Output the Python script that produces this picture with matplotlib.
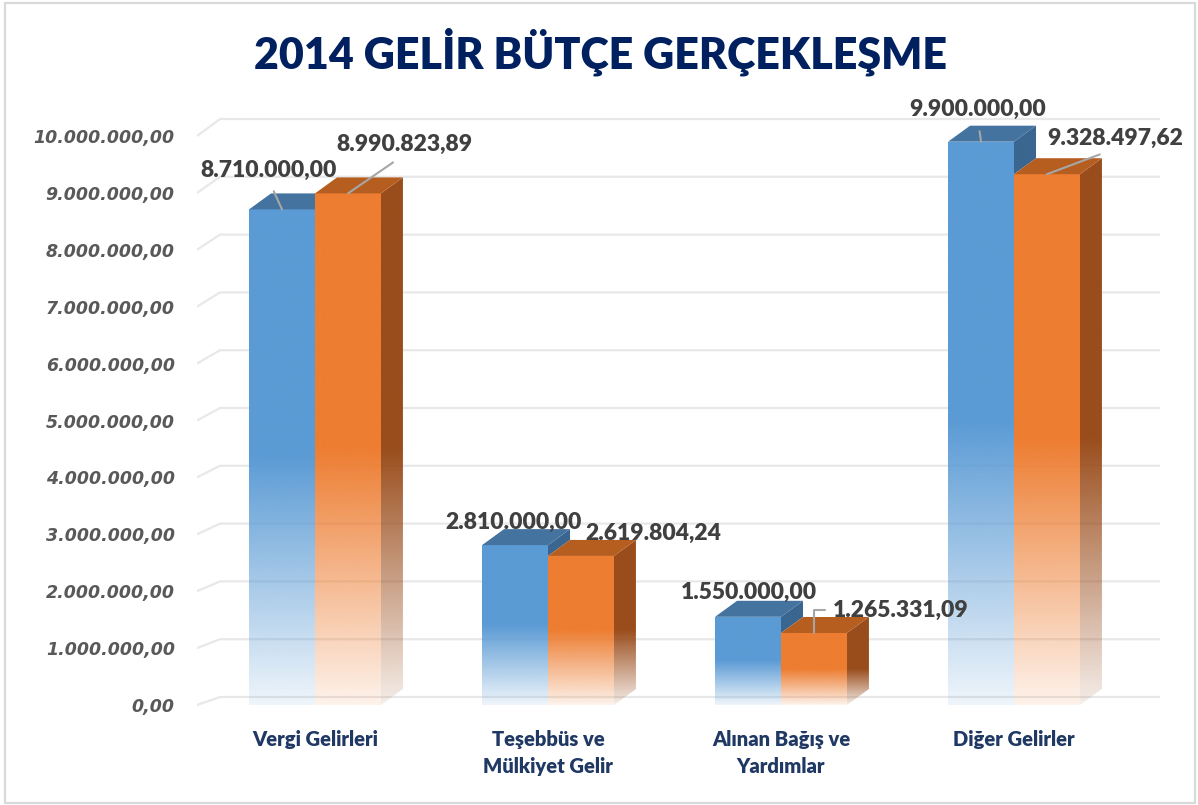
import numpy as np
import matplotlib
matplotlib.use("Agg")
import matplotlib.pyplot as plt
from matplotlib.patches import Polygon, Rectangle

# chart data
categories = ["Vergi Gelirleri", "Teşebbüs ve\nMülkiyet Gelir", "Alınan Bağış ve\nYardımlar", "Diğer Gelirler"]
butce = [8710000.00, 2810000.00, 1550000.00, 9900000.00]
gerceklesme = [8990823.89, 2619804.24, 1265331.09, 9328497.62]
yticks = [0, 1e6, 2e6, 3e6, 4e6, 5e6, 6e6, 7e6, 8e6, 9e6, 10e6]

# label layout: (offset px from bar top, draw leader?)
blue_lbl = [((-13, 39), True), ((-1, 23), False), ((1, 24), False), ((-3, 32), True)]
orange_lbl = [((56, 49), True), ((72, 23), False), ((87, 23), "bracket"), ((68, 36), True)]


def tr(v):
    s = f"{v:,.2f}"
    return s.replace(",", "X").replace(".", ",").replace("X", ".")


W, H = 1198, 805
PX_X = 233.0          # pixels per category
PX_Y = 56.9 / 1e6     # pixels per unit value
DX = 22 / PX_X        # bar depth
DY = 16 / PX_Y
width = 0.283

fig = plt.figure(figsize=(W / 100, H / 100), dpi=100)
ax = fig.add_axes([197 / W, 85 / H, 963 / W, 620 / H])
fig.patches.append(Rectangle((5 / W, 2 / H), 1190 / W, 800 / H, transform=fig.transFigure,
                             fill=False, edgecolor="#D9D9D9", lw=1.6))

xmin = -118 / PX_X
xmax = xmin + 963 / PX_X
ymin = -15 / PX_Y
ymax = 605 / PX_Y


def alpha_at(frac):
    frac = np.clip(frac, 0, 1)
    return np.where(frac < 0.5, 1.0, 1.0 - (frac - 0.5) / 0.5 * 0.9)


def grad_face(verts, color, v, z):
    poly = Polygon(verts, closed=True, facecolor="none", edgecolor="none")
    ax.add_patch(poly)
    xs = [p[0] for p in verts]
    ys = [p[1] for p in verts]
    y0, y1 = min(ys), max(ys)
    rows = np.linspace(y1, y0, 200)
    a = alpha_at((v - rows) / v)
    rgb = matplotlib.colors.to_rgb(color)
    img = np.zeros((200, 2, 4))
    img[:, :, 0], img[:, :, 1], img[:, :, 2] = rgb
    img[:, :, 3] = a[:, None]
    im = ax.imshow(img, extent=[min(xs), max(xs), y0, y1], aspect="auto",
                   origin="upper", zorder=z, interpolation="bilinear")
    im.set_clip_path(poly)


def bar3d(x0, x1, v, front, top, side, z, side_from=0.0):
    grad_face([(x0, 0), (x1, 0), (x1, v), (x0, v)], front, v, z)
    if side_from < v:
        grad_face([(x1, side_from), (x1 + DX, side_from + DY), (x1 + DX, v + DY), (x1, v)], side, v, z)
    ax.add_patch(Polygon([(x0, v), (x1, v), (x1 + DX, v + DY), (x0 + DX, v + DY)],
                         closed=True, facecolor=top, edgecolor="none", zorder=z + 0.1))


# gridlines on back wall with a little perspective
for t in yticks:
    gdy = (8 + 0.9 * t / 1e6) / PX_Y
    ax.plot([xmin, xmin + 23 / PX_X, xmax], [t, t + gdy, t + gdy],
            color="#E8E8E8", lw=1.6, zorder=1, solid_capstyle="butt")

for i in range(len(categories)):
    vb, vo = butce[i], gerceklesme[i]
    bar3d(i - width, i, vb, "#5B9BD5", "#44739F", "#3A6690", 2, side_from=min(vb, vo))
    bar3d(i, i + width, vo, "#ED7D31", "#B65D20", "#9A4D1C", 3)

lbl_font = dict(family=["Lato", "DejaVu Sans"], fontweight="heavy", fontsize=16.5, color="#404040")
for i in range(len(categories)):
    for vals, lay, xc in ((butce, blue_lbl, i - width / 2), (gerceklesme, orange_lbl, i + width / 2)):
        (ox, oy), lead = lay[i]
        kw = {}
        if lead == "bracket":
            kw["arrowprops"] = dict(arrowstyle="-", color="#A6A6A6", lw=1.5, shrinkA=4, shrinkB=0,
                                    relpos=(0, 0.5), connectionstyle="angle,angleA=180,angleB=90,rad=0")
        elif lead:
            kw["arrowprops"] = dict(arrowstyle="-", color="#A6A6A6", lw=1.5, shrinkA=6, shrinkB=0,
                                    relpos=(0.5, 0))
        ax.annotate(tr(vals[i]), xy=(xc, vals[i]), xytext=(ox, oy), textcoords="offset pixels",
                    ha="center", va="center", zorder=6, **lbl_font, **kw)

ax.set_xlim(xmin, xmax)
ax.set_ylim(ymin, ymax)
ax.set_yticks(yticks)
ax.set_yticklabels([tr(t) for t in yticks], family="DejaVu Sans", fontweight="bold",
                   fontstyle="italic", fontsize=12.5, color="#595959")
ax.set_xticks(range(len(categories)))
ax.set_xticklabels(categories, family=["Lato", "DejaVu Sans"], fontweight="heavy", fontsize=14.5,
                   color="#1F3864", linespacing=1.5)
ax.tick_params(axis="y", length=0, pad=16)
ax.tick_params(axis="x", length=0, pad=7)
for s in ax.spines.values():
    s.set_visible(False)

fig.text(600 / W, 1 - 52 / H, "2014 GELİR BÜTÇE GERÇEKLEŞME", ha="center", va="center",
         family=["Lato", "DejaVu Sans"], fontweight="heavy", fontsize=31, color="#002060")

fig.savefig("out.png", dpi=100)
